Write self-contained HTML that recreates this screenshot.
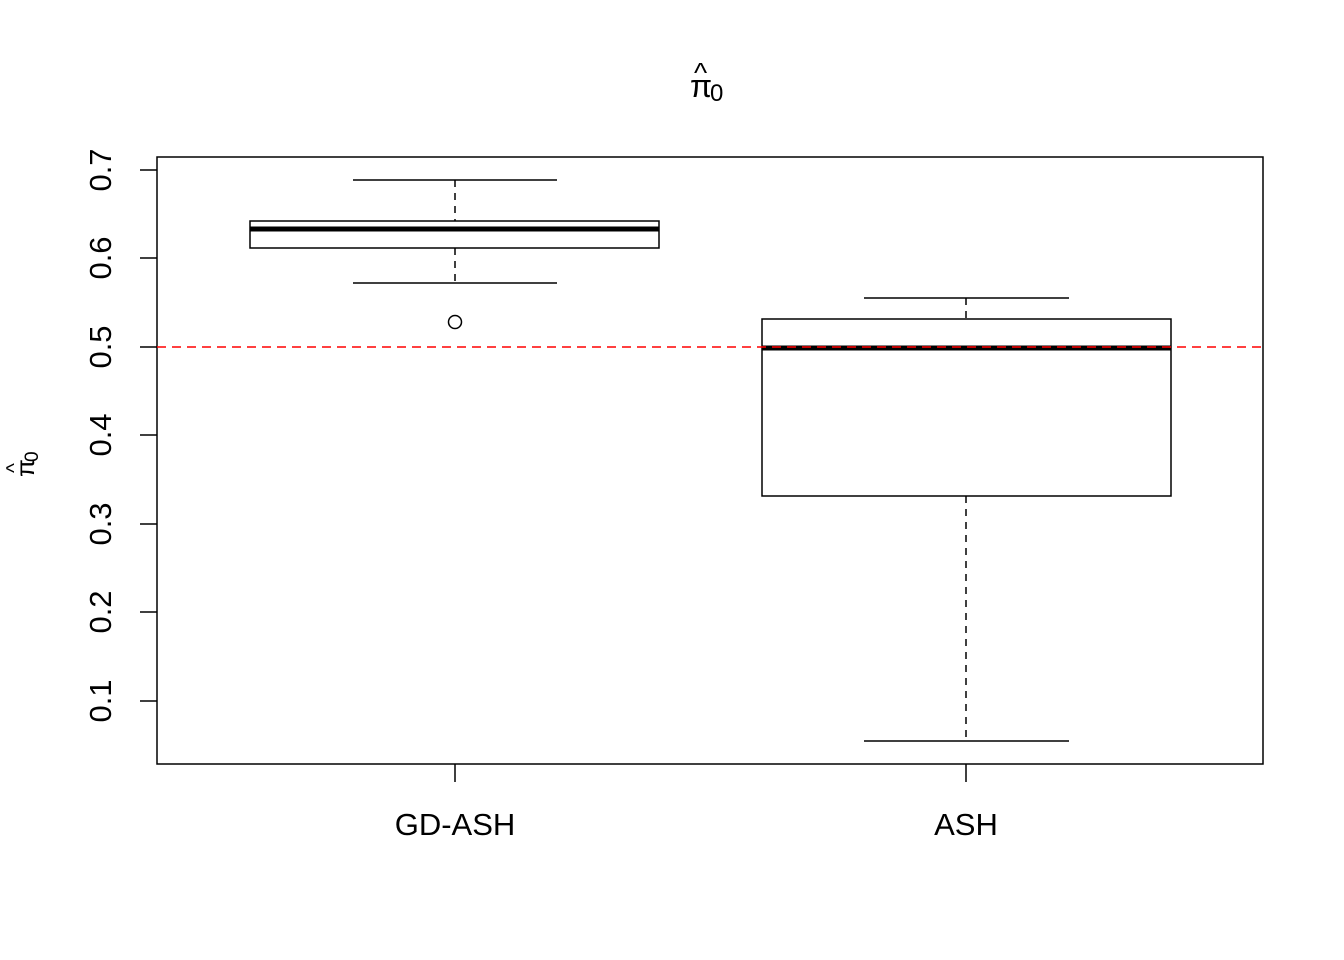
<!DOCTYPE html>
<html><head><style>body{margin:0;background:#fff}svg{display:block}</style></head><body>
<svg width="1344" height="960" xmlns="http://www.w3.org/2000/svg" font-family="Liberation Sans, sans-serif">
<rect width="1344" height="960" fill="#fff"/>
<text x="690" y="97" font-size="32">π</text><text x="710" y="101" font-size="24">0</text>
<text x="694" y="82" font-size="28">^</text>
<g transform="translate(34,455) rotate(-90)"><text x="-22" y="0" font-size="26">π</text><text x="-7" y="4" font-size="19">0</text><text x="-18" y="-13" font-size="21">^</text></g>
<rect x="157" y="157" width="1106" height="607" fill="none" stroke="#000" stroke-width="1.5"/>
<g stroke="#000" stroke-width="1.5">
<line x1="140" y1="170" x2="157" y2="170"/><line x1="140" y1="258" x2="157" y2="258"/><line x1="140" y1="347" x2="157" y2="347"/><line x1="140" y1="435" x2="157" y2="435"/><line x1="140" y1="524" x2="157" y2="524"/><line x1="140" y1="612" x2="157" y2="612"/><line x1="140" y1="701" x2="157" y2="701"/>
<line x1="455" y1="764" x2="455" y2="782"/><line x1="966" y1="764" x2="966" y2="782"/>
</g>
<g font-size="31" text-anchor="middle">
<text transform="translate(111,170) rotate(-90)">0.7</text>
<text transform="translate(111,258) rotate(-90)">0.6</text>
<text transform="translate(111,347) rotate(-90)">0.5</text>
<text transform="translate(111,435) rotate(-90)">0.4</text>
<text transform="translate(111,524) rotate(-90)">0.3</text>
<text transform="translate(111,612) rotate(-90)">0.2</text>
<text transform="translate(111,701) rotate(-90)">0.1</text>
<text x="455" y="835">GD-ASH</text><text x="966" y="835">ASH</text>
</g>
<g stroke="#000" stroke-width="1.5" fill="none">
<line x1="353" y1="180" x2="557" y2="180"/><line x1="353" y1="283" x2="557" y2="283"/>
<line x1="455" y1="180" x2="455" y2="221" stroke-dasharray="7,6"/><line x1="455" y1="248" x2="455" y2="283" stroke-dasharray="7,6"/>
<rect x="250" y="221" width="409" height="27"/>
<line x1="250" y1="229" x2="659" y2="229" stroke-width="5"/>
<circle cx="455" cy="322" r="6.5"/>
<line x1="864" y1="298" x2="1069" y2="298"/><line x1="864" y1="741" x2="1069" y2="741"/>
<line x1="966" y1="298" x2="966" y2="319" stroke-dasharray="7,6"/><line x1="966" y1="496" x2="966" y2="741" stroke-dasharray="7,6"/>
<rect x="762" y="319" width="409" height="177"/>
<line x1="762" y1="348" x2="1171" y2="348" stroke-width="5"/>
</g>
<line x1="157" y1="347" x2="1263" y2="347" stroke="#ff0000" stroke-width="1.5" stroke-dasharray="9,6"/>
</svg>
</body></html>
